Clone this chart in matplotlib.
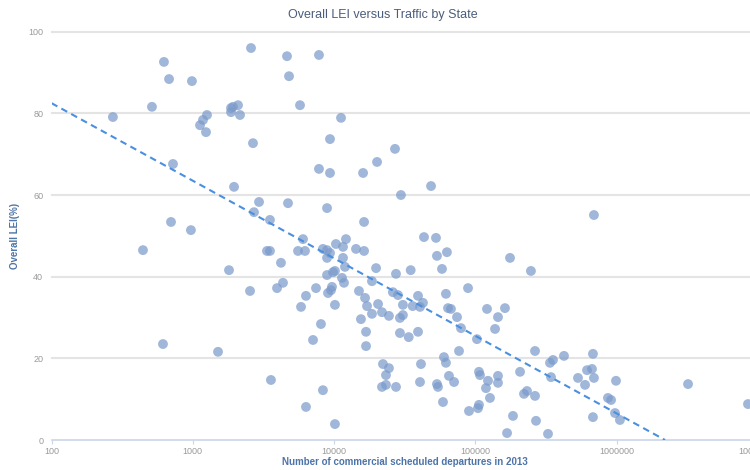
import numpy as np
import matplotlib
matplotlib.use("Agg")
import matplotlib.pyplot as plt
from matplotlib.ticker import FixedLocator, FixedFormatter

plt.rcParams['font.family'] = ['Liberation Sans', 'DejaVu Sans']

departures = [
    272, 514, 625, 679, 724, 701, 986, 970, 1125, 1181, 1260, 1240, 1864, 1925, 2089, 1864,
    2158, 1958, 2582, 2667, 2943, 2710, 3516, 4642, 4797, 5738, 4718, 7816, 7816, 9354,
    9354, 8913, 11194, 16032, 16293, 12134, 6025, 20137, 26977, 48531, 29716, 690200,
    43263, 52604, 444, 615, 1508, 1804, 2541, 3350, 3516, 4207, 3945, 4347, 3573, 6324,
    7447, 5834, 7092, 8072, 6324, 8337, 10139, 5556, 6223, 8337, 8913, 9354, 8913, 10304,
    11561, 11561, 11940, 14289, 16293, 8913, 9817, 10139, 11376, 11749, 9661, 9506, 9057,
    10139, 14997, 16558, 17100, 15488, 18535, 16827, 16827, 18535, 19815, 20464, 21828,
    22182, 23286, 21828, 53457, 62881, 58018, 34834, 27416, 175800, 247200, 88675, 61878,
    26070, 28314, 39254, 42545, 35974, 40540, 30690, 63988, 67144, 24441, 30690, 29241,
    74131, 120800, 161900, 144500, 79068, 137700, 29241, 39254, 33730, 102600, 76560,
    264200, 59917, 61878, 41198, 24441, 23286, 27416, 40540, 53457, 54325, 65013, 70632,
    106000, 107800, 122800, 118800, 126800, 144500, 144500, 207000, 231800, 220800, 264200,
    58959, 90114, 106000, 104300, 184500, 268500, 167500, 326500, 337300, 342800, 354000,
    423600, 679200, 532100, 597000, 616600, 668300, 690200, 988600, 867000, 912000, 972700,
    1054000, 679200, 3198000, 8494000,
]
lei = [
    79.1, 81.6, 92.6, 88.4, 67.6, 53.4, 87.9, 51.4, 77.1, 78.4, 79.6, 75.4, 81.3, 81.6, 82.0, 80.3,
    79.6, 62.0, 96.0, 72.7, 58.3, 55.8, 53.9, 94.0, 89.1, 82.0, 58.0, 94.3, 66.4, 73.7,
    65.4, 56.8, 78.9, 65.4, 53.4, 49.2, 49.2, 68.1, 71.3, 62.2, 60.0, 55.1,
    49.7, 49.5, 46.5, 23.5, 21.6, 41.6, 36.5, 46.3, 46.3, 43.4, 37.2, 38.5, 14.7, 35.3,
    37.2, 32.6, 24.5, 28.4, 8.1, 12.2, 3.9, 46.3, 46.3, 46.8, 46.5, 45.8, 44.6, 48.0,
    47.3, 44.6, 42.4, 46.8, 46.3, 40.4, 41.1, 41.4, 39.7, 38.5, 37.5, 36.7, 36.0,
    33.1, 36.5, 34.8, 32.8, 29.6, 30.9, 26.5, 23.0, 38.9, 42.1, 33.3, 31.3,
    18.6, 15.9, 13.0, 45.1, 46.0, 41.9, 41.6, 40.7, 44.6, 41.4, 37.2, 35.8,
    36.2, 35.5, 35.3, 33.6, 32.8, 32.6, 33.1, 32.3, 32.1, 30.4, 30.6, 29.9,
    30.1, 32.1, 32.3, 30.1, 27.4, 27.2, 26.2, 26.5, 25.2, 24.7, 21.8,
    21.8, 20.3, 18.9, 18.6, 17.6, 13.5, 13.0, 14.2, 13.7, 13.0, 15.7, 14.2,
    16.7, 15.9, 14.5, 12.7, 10.3, 15.7, 14.0, 16.7, 12.0, 11.3, 10.8,
    9.3, 7.1, 8.6, 7.8, 5.9, 4.7, 1.7, 1.5, 18.9, 15.4, 19.6,
    20.6, 21.1, 15.2, 13.5, 17.1, 17.4, 15.2, 14.5, 10.3, 9.8, 6.6,
    4.9, 5.6, 13.7, 8.8,
]

# trend line: LEI = a + b*log10(departures)
trend_a = 120.5
trend_b = -19.0

x_ticks = [100, 1000, 10000, 100000, 1000000, 10000000]
x_ticklabels = ["100", "1000", "10000", "100000", "1000000", "10000000"]
y_ticks = [0, 20, 40, 60, 80, 100]

fig = plt.figure(figsize=(7.5, 4.7), dpi=100)
W, H = 750, 470
left, right, top, bottom = 51.5, 758, 31.7, 440
ax = fig.add_axes([left / W, (H - bottom) / H, (right - left) / W, (bottom - top) / H])

ax.set_xscale('log')
ax.set_xlim(100, 1e7)
ax.set_ylim(0, 100)

for s in ['top', 'right', 'left']:
    ax.spines[s].set_visible(False)
ax.spines['bottom'].set_color('#c9d6ea')
ax.spines['bottom'].set_linewidth(1.2)

ax.yaxis.set_major_locator(FixedLocator(y_ticks))
ax.set_yticklabels([str(v) for v in y_ticks])
ax.xaxis.set_major_locator(FixedLocator(x_ticks))
ax.xaxis.set_major_formatter(FixedFormatter(x_ticklabels))
ax.xaxis.set_minor_locator(FixedLocator([]))
ax.tick_params(axis='y', length=0, pad=6, labelsize=6.5, labelcolor='#9a9a9a')
ax.tick_params(axis='x', length=3, color='#c9d6ea', pad=2, labelsize=6.5, labelcolor='#9a9a9a')

for v in y_ticks[1:]:
    ax.axhline(v, color='#e4e4e4', linewidth=1.5, zorder=0, clip_on=False)

ax.scatter(departures, lei, s=50, color='#7b9bcb', alpha=0.72, edgecolors='none', zorder=3, clip_on=False)

x_end = 10 ** (-trend_a / trend_b)
xl = np.logspace(2, np.log10(x_end), 50)
ax.plot(xl, trend_a + trend_b * np.log10(xl), color='#4a8fe0', linewidth=1.5,
        dashes=(3.2, 2.2), zorder=4)

ax.set_xlabel("Number of commercial scheduled departures in 2013", fontsize=7,
              fontweight='bold', color='#4d74a8', labelpad=1)
ax.set_ylabel("Overall LEI(%)", fontsize=7, fontweight='bold', color='#4d74a8', labelpad=6)
fig.text(383 / W, 1 - 15 / H, "Overall LEI versus Traffic by State", ha='center', va='center',
         fontsize=9, color='#4b5d7c')

fig.savefig("out.png", dpi=100)
